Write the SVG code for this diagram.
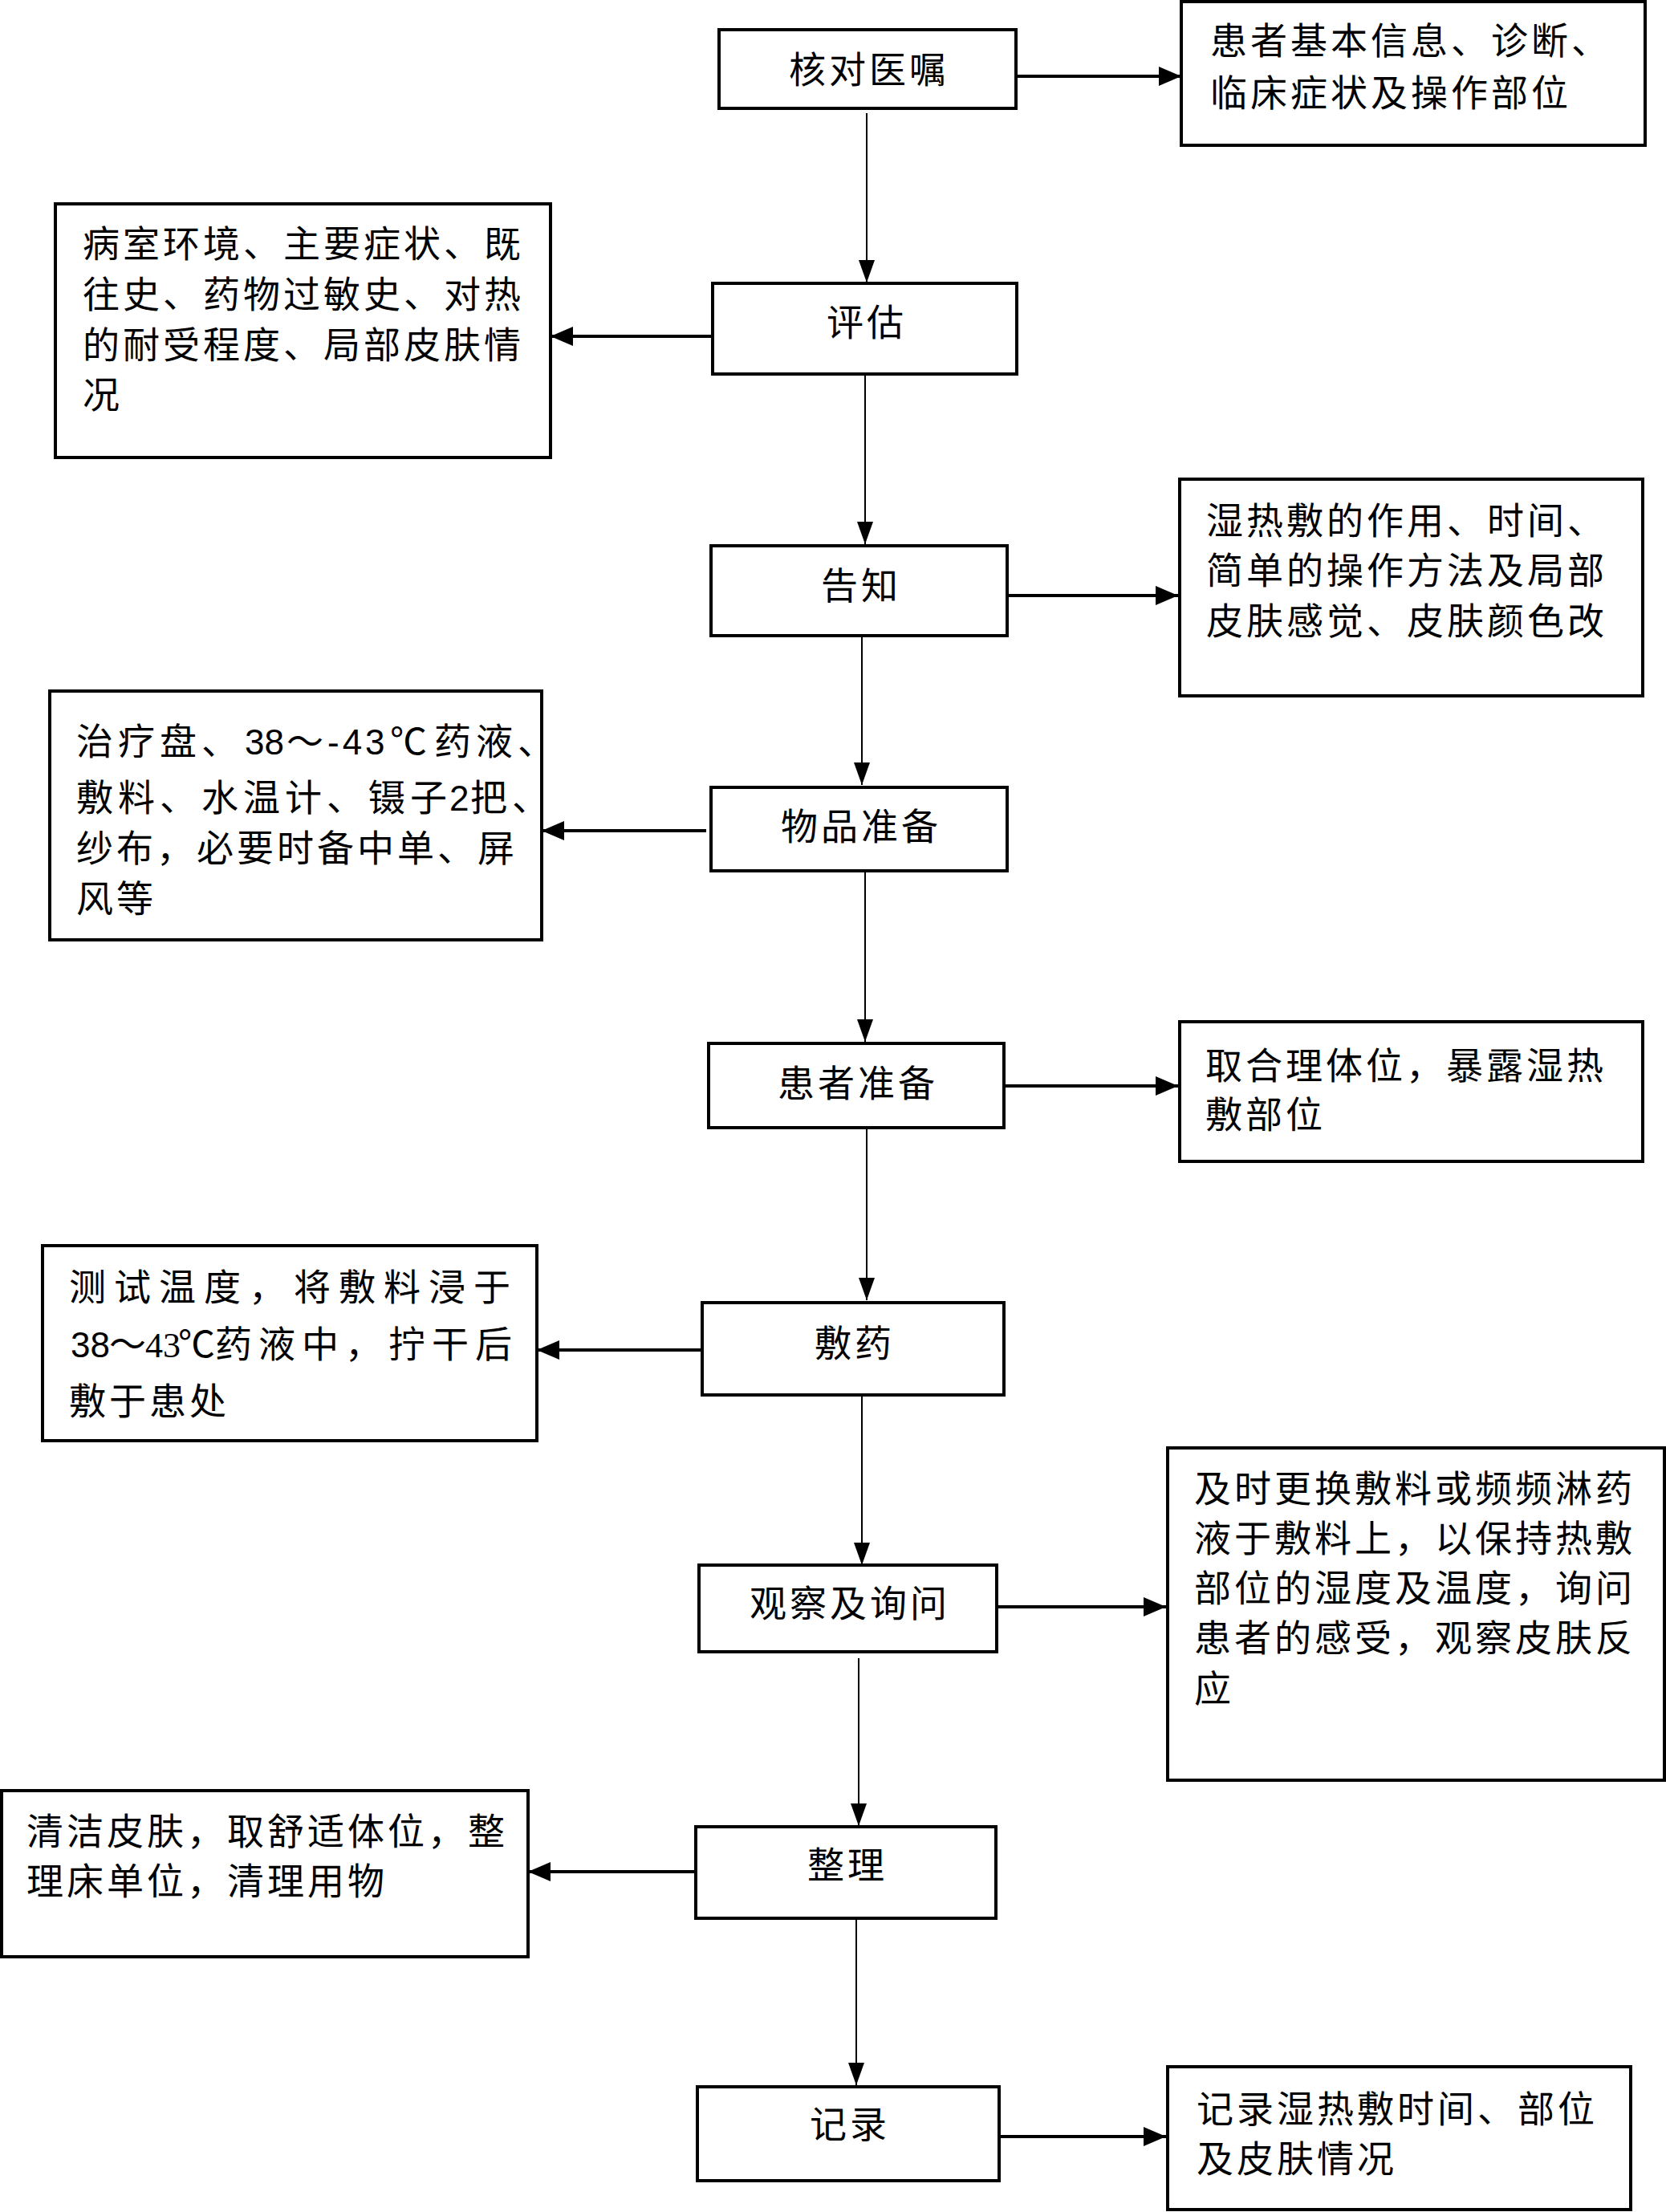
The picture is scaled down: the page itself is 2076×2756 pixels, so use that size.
<svg xmlns="http://www.w3.org/2000/svg" width="2076" height="2756" viewBox="0 0 2076 2756">
<style>
.bg{fill:#fff}
.box{fill:#fff;stroke:#000;stroke-width:4}
.t{font-family:"Noto Sans CJK SC","Noto Sans CJK TC",sans-serif;font-size:46px;letter-spacing:4px;fill:#000}
.c{text-anchor:middle}
.d{font-family:"Liberation Sans","Noto Sans CJK SC",sans-serif;font-size:44px}
.s{font-family:"Liberation Serif","Noto Sans CJK SC",serif;font-size:44px;letter-spacing:0}
.v{stroke:#000;stroke-width:2;fill:none}
.h{stroke:#000;stroke-width:4;fill:none}
</style>
<defs>
<marker id="av" viewBox="0 0 28 20" refX="28" refY="10" markerWidth="28" markerHeight="20" markerUnits="userSpaceOnUse" orient="auto"><path d="M0,0 L28,10 L0,20 Z" fill="#000"/></marker>
<marker id="ah" viewBox="0 0 28 24" refX="28" refY="12" markerWidth="28" markerHeight="24" markerUnits="userSpaceOnUse" orient="auto"><path d="M0,0 L28,12 L0,24 Z" fill="#000"/></marker>
</defs>
<rect class="bg" x="0" y="0" width="2076" height="2756"/>

<g id="connectors">
<line class="v" x1="1080" y1="141" x2="1080" y2="352" marker-end="url(#av)"/>
<line class="v" x1="1078" y1="466" x2="1078" y2="678" marker-end="url(#av)"/>
<line class="v" x1="1074" y1="792" x2="1074" y2="978" marker-end="url(#av)"/>
<line class="v" x1="1078" y1="1085" x2="1078" y2="1298" marker-end="url(#av)"/>
<line class="v" x1="1080" y1="1406" x2="1080" y2="1620" marker-end="url(#av)"/>
<line class="v" x1="1074" y1="1738" x2="1074" y2="1950" marker-end="url(#av)"/>
<line class="v" x1="1070" y1="2066" x2="1070" y2="2275" marker-end="url(#av)"/>
<line class="v" x1="1067" y1="2392" x2="1067" y2="2598" marker-end="url(#av)"/>
<line class="h" x1="1266" y1="95" x2="1472" y2="95" marker-end="url(#ah)"/>
<line class="h" x1="887" y1="419" x2="686" y2="419" marker-end="url(#ah)"/>
<line class="h" x1="1257" y1="742" x2="1468" y2="742" marker-end="url(#ah)"/>
<line class="h" x1="880" y1="1035" x2="675" y2="1035" marker-end="url(#ah)"/>
<line class="h" x1="1253" y1="1353" x2="1468" y2="1353" marker-end="url(#ah)"/>
<line class="h" x1="874" y1="1682" x2="669" y2="1682" marker-end="url(#ah)"/>
<line class="h" x1="1244" y1="2002" x2="1453" y2="2002" marker-end="url(#ah)"/>
<line class="h" x1="867" y1="2332" x2="658" y2="2332" marker-end="url(#ah)"/>
<line class="h" x1="1247" y1="2662" x2="1453" y2="2662" marker-end="url(#ah)"/>
</g>

<g id="n1"><rect class="box" x="896" y="37" width="370" height="98"/><text class="t c" x="1083" y="103">核对医嘱</text></g>
<g id="n2"><rect class="box" x="888" y="353" width="379" height="113"/><text class="t c" x="1080" y="418">评估</text></g>
<g id="n3"><rect class="box" x="886" y="680" width="369" height="112"/><text class="t c" x="1073" y="746">告知</text></g>
<g id="n4"><rect class="box" x="886" y="981" width="369" height="104"/><text class="t c" x="1073" y="1046">物品准备</text></g>
<g id="n5"><rect class="box" x="883" y="1300" width="368" height="105"/><text class="t c" x="1069" y="1366">患者准备</text></g>
<g id="n6"><rect class="box" x="875" y="1623" width="376" height="115"/><text class="t c" x="1065" y="1690">敷药</text></g>
<g id="n7"><rect class="box" x="871" y="1950" width="371" height="108"/><text class="t c" x="1059" y="2014">观察及询问</text></g>
<g id="n8"><rect class="box" x="867" y="2276" width="374" height="114"/><text class="t c" x="1056" y="2340">整理</text></g>
<g id="n9"><rect class="box" x="869" y="2600" width="376" height="117"/><text class="t c" x="1059" y="2663">记录</text></g>

<g id="r1"><rect class="box" x="1472" y="2" width="578" height="179"/>
<text class="t" x="1508" y="67">患者基本信息、诊断、</text>
<text class="t" x="1508" y="132">临床症状及操作部位</text></g>

<g id="l2"><rect class="box" x="69" y="254" width="617" height="316"/>
<text class="t" x="103" y="320">病室环境、主要症状、既</text>
<text class="t" x="103" y="383">往史、药物过敏史、对热</text>
<text class="t" x="103" y="446">的耐受程度、局部皮肤情</text>
<text class="t" x="103" y="508">况</text></g>

<g id="r3"><rect class="box" x="1470" y="597" width="577" height="270"/>
<text class="t" x="1503" y="665">湿热敷的作用、时间、</text>
<text class="t" x="1503" y="727">简单的操作方法及局部</text>
<text class="t" x="1503" y="790">皮肤感觉、皮肤颜色改</text></g>

<g id="l4"><rect class="box" x="62" y="861" width="613" height="310"/>
<text class="t" x="95" y="940" style="letter-spacing:6px">治疗盘、<tspan class="d" x="305" style="letter-spacing:0">38</tspan><tspan x="357" style="letter-spacing:0">～</tspan><tspan class="d" x="408" style="letter-spacing:4px">-43</tspan><tspan x="486" style="letter-spacing:0">℃</tspan><tspan x="541">药液、</tspan></text>
<text class="t" x="95" y="1010" style="letter-spacing:6px">敷料、水温计、镊子<tspan class="d" x="560" style="letter-spacing:0">2</tspan><tspan x="586">把、</tspan></text>
<text class="t" x="95" y="1073">纱布，必要时备中单、屏</text>
<text class="t" x="95" y="1136">风等</text></g>

<g id="r5"><rect class="box" x="1470" y="1273" width="577" height="174"/>
<text class="t" x="1502" y="1344">取合理体位，暴露湿热</text>
<text class="t" x="1502" y="1405">敷部位</text></g>

<g id="l6"><rect class="box" x="53" y="1552" width="616" height="243"/>
<text class="t" x="86" y="1620" style="letter-spacing:10px">测试温度，将敷料浸于</text>
<text class="t" x="88" y="1691" style="letter-spacing:0"><tspan class="d">38</tspan><tspan x="136">～</tspan><tspan class="s" x="181">43</tspan><tspan x="222">℃</tspan><tspan x="268" style="letter-spacing:8px">药液中，拧干后</tspan></text>
<text class="t" x="86" y="1762">敷于患处</text></g>

<g id="r7"><rect class="box" x="1455" y="1804" width="619" height="414"/>
<text class="t" x="1488" y="1871">及时更换敷料或频频淋药</text>
<text class="t" x="1488" y="1933">液于敷料上，以保持热敷</text>
<text class="t" x="1488" y="1995">部位的湿度及温度，询问</text>
<text class="t" x="1488" y="2057">患者的感受，观察皮肤反</text>
<text class="t" x="1488" y="2120">应</text></g>

<g id="l8"><rect class="box" x="2" y="2231" width="656" height="207"/>
<text class="t" x="33" y="2298">清洁皮肤，取舒适体位，整</text>
<text class="t" x="33" y="2360">理床单位，清理用物</text></g>

<g id="r9"><rect class="box" x="1455" y="2575" width="577" height="178"/>
<text class="t" x="1491" y="2644">记录湿热敷时间、部位</text>
<text class="t" x="1491" y="2706">及皮肤情况</text></g>
</svg>
